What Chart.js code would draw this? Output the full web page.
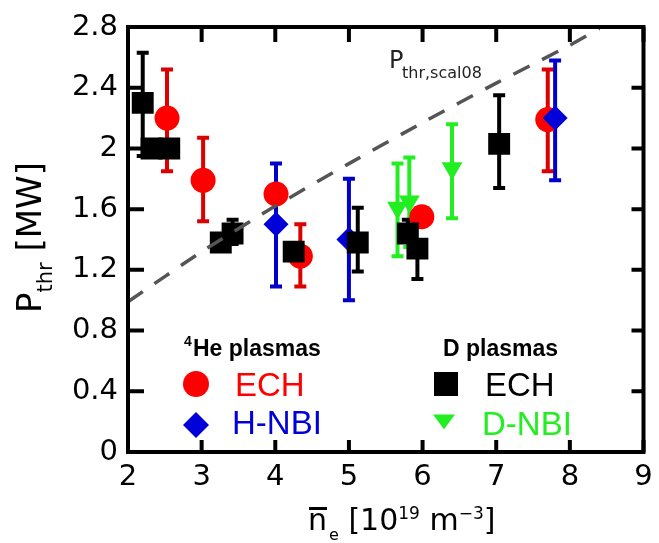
<!DOCTYPE html>
<html>
<head>
<meta charset="utf-8">
<script src="https://cdn.jsdelivr.net/npm/chart.js@4.4.1/dist/chart.umd.min.js"></script>
<style>
  html, body { margin: 0; padding: 0; background: #fff; }
  #wrap { width: 659px; height: 543px; }
</style>
</head>
<body>
<div id="wrap"><canvas id="pthr" width="659" height="543"></canvas></div>
<script>
const xTicks = [2, 3, 4, 5, 6, 7, 8, 9];
const yTicks = [0, 0.4, 0.8, 1.2, 1.6, 2, 2.4, 2.8];

// 4He plasmas, ECH
const heEchN = [2.53, 3.02, 4.01, 4.34, 5.99, 7.70];
const heEchP = [2.20, 1.79, 1.70, 1.29, 1.55, 2.19];
const heEchLo = [1.85, 1.52, null, 1.09, null, 1.85];
const heEchHi = [2.52, 2.07, null, 1.50, null, 2.52];

// 4He plasmas, H-NBI
const heNbiN = [4.01, 5.00, 7.80];
const heNbiP = [1.50, 1.40, 2.20];
const heNbiLo = [1.09, 1.00, 1.79];
const heNbiHi = [1.90, 1.80, 2.58];

// D plasmas, ECH
const dEchN = [2.20, 2.32, 2.56, 3.26, 3.42, 4.25, 5.12, 5.80, 5.93, 7.04];
const dEchP = [2.30, 2.00, 2.00, 1.38, 1.44, 1.32, 1.38, 1.44, 1.34, 2.03];
const dEchLo = [1.95, null, null, null, 1.37, null, 1.19, null, 1.14, 1.74];
const dEchHi = [2.63, null, null, null, 1.53, null, 1.61, 1.53, null, 2.35];

// D plasmas, D-NBI
const dNbiN = [5.66, 5.82, 6.40];
const dNbiP = [1.61, 1.65, 1.87];
const dNbiLo = [1.29, 1.35, 1.54];
const dNbiHi = [1.90, 1.94, 2.16];

// threshold power scaling (scal08)
const scalN = [2, 3, 4, 5, 6, 7, 8, 8.4];
const scalP = [0.99, 1.32, 1.62, 1.90, 2.17, 2.43, 2.68, 2.79];

const pts = (xs, ys) => xs.map((x, i) => ({ x, y: ys[i] }));

const RED = '#ff0000';
const BLUE = '#0000d8';
const GREEN = '#22ee22';
const BLACK = '#000000';

function drawMarker(ctx, shape, x, y, r, color) {
    ctx.fillStyle = color;
    ctx.beginPath();
    if (shape === 'circle') {
        ctx.arc(x, y, r, 0, Math.PI * 2);
    } else if (shape === 'diamond') {
        ctx.moveTo(x - r, y); ctx.lineTo(x, y - r); ctx.lineTo(x + r, y); ctx.lineTo(x, y + r);
    } else if (shape === 'square') {
        ctx.rect(x - r, y - r, 2 * r, 2 * r);
    } else if (shape === 'down') {
        ctx.moveTo(x - r, y - r * 0.6); ctx.lineTo(x + r, y - r * 0.6); ctx.lineTo(x, y + r * 0.75);
    }
    ctx.closePath();
    ctx.fill();
}

// vertical error bars, drawn under every marker
const errorBars = {
    id: 'errorBars',
    beforeDatasetsDraw(chart) {
        const { ctx, chartArea: a, scales: { x, y } } = chart;
        ctx.save();
        ctx.beginPath();
        ctx.rect(a.left, a.top, a.right - a.left, a.bottom - a.top);
        ctx.clip();
        ctx.lineWidth = 4;
        ctx.lineCap = 'butt';
        for (let i = chart.data.datasets.length - 1; i >= 0; i--) {
            const ds = chart.data.datasets[i];
            if (!ds.errLo) continue;
            ctx.strokeStyle = ds.errColor;
            ds.data.forEach((pt, j) => {
                const px = x.getPixelForValue(pt.x);
                const py = y.getPixelForValue(pt.y);
                ctx.beginPath();
                [ds.errLo[j], ds.errHi[j]].forEach(v => {
                    if (v == null) return;
                    const e = y.getPixelForValue(v);
                    ctx.moveTo(px, py);
                    ctx.lineTo(px, e);
                    ctx.moveTo(px - 6, e);
                    ctx.lineTo(px + 6, e);
                });
                ctx.stroke();
            });
        }
        ctx.restore();
    },
};

// box frame with inward ticks, axis titles, legend
const decorations = {
    id: 'decorations',
    afterDraw(chart) {
        const { ctx, chartArea: a, scales: { x, y } } = chart;
        ctx.save();
        ctx.strokeStyle = '#000';
        ctx.lineWidth = 4;
        ctx.strokeRect(a.left, a.top, a.right - a.left, a.bottom - a.top);
        ctx.beginPath();
        xTicks.forEach(v => {
            const px = x.getPixelForValue(v);
            ctx.moveTo(px, a.bottom); ctx.lineTo(px, a.bottom - 12);
            ctx.moveTo(px, a.top); ctx.lineTo(px, a.top + 15);
        });
        yTicks.forEach(v => {
            const py = y.getPixelForValue(v);
            ctx.moveTo(a.left, py); ctx.lineTo(a.left + 16, py);
            ctx.moveTo(a.right, py); ctx.lineTo(a.right - 12, py);
        });
        ctx.stroke();

        ctx.fillStyle = '#000';
        ctx.textAlign = 'left';
        ctx.textBaseline = 'alphabetic';

        // y title: P_thr [MW]
        ctx.save();
        ctx.translate(41, 313);
        ctx.rotate(-Math.PI / 2);
        ctx.font = '34px "DejaVu Sans"';
        ctx.fillText('P', 0, 0);
        let w = ctx.measureText('P').width;
        ctx.font = '21px "DejaVu Sans"';
        ctx.fillText('thr', w, 11);
        w += ctx.measureText('thr').width;
        ctx.font = '34px "DejaVu Sans"';
        ctx.fillText(' [MW]', w, 0);
        ctx.restore();

        // x title: n̄_e [10^19 m^-3]
        let cx = 308;
        const base = 530;
        const run = (txt, size, dy) => {
            ctx.font = size + 'px "DejaVu Sans"';
            ctx.fillText(txt, cx, base + dy);
            const tw = ctx.measureText(txt).width;
            cx += tw;
            return tw;
        };
        const nStart = cx;
        const nw = run('n', 30, 0);
        ctx.fillRect(nStart + 1, 507, nw - 1, 3);
        cx += 2;
        run('e', 16, 10);
        run(' [10', 30, 0);
        run('19', 17, -11);
        run(' m', 30, 0);
        run('\u22123', 17, -11);
        run(']', 30, 0);

        // scaling line label
        ctx.fillStyle = '#222';
        ctx.font = '24px "DejaVu Sans"';
        ctx.fillText('P', 389, 68);
        ctx.font = '16px "DejaVu Sans"';
        ctx.fillText('thr,scal08', 402, 78);

        // legend
        ctx.fillStyle = '#000';
        ctx.font = 'bold 14px "Liberation Sans"';
        ctx.fillText('4', 184, 346);
        ctx.font = 'bold 23px "Liberation Sans"';
        ctx.fillText('He plasmas', 193, 356);
        ctx.fillText('D plasmas', 443, 356);

        drawMarker(ctx, 'circle', 196, 384, 13, RED);
        drawMarker(ctx, 'diamond', 196, 425, 13, BLUE);
        drawMarker(ctx, 'square', 446, 384, 12, BLACK);
        drawMarker(ctx, 'down', 444, 421, 11, GREEN);

        ctx.font = '33px "Liberation Sans"';
        ctx.fillStyle = RED;
        ctx.fillText('ECH', 235, 396);
        ctx.fillStyle = BLUE;
        ctx.fillText('H-NBI', 232, 434);
        ctx.fillStyle = BLACK;
        ctx.fillText('ECH', 485, 396);
        ctx.fillStyle = GREEN;
        ctx.fillText('D-NBI', 482, 435);
        ctx.restore();
    },
};

Chart.defaults.font.family = '"DejaVu Sans"';
Chart.defaults.color = '#000';

new Chart(document.getElementById('pthr'), {
    type: 'scatter',
    data: {
        datasets: [
            {
                label: 'scal08',
                data: pts(scalN, scalP),
                showLine: true,
                borderColor: '#555',
                borderWidth: 3.5,
                borderDash: [18, 14],
                tension: 0.2,
                pointRadius: 0,
                fill: false,
            },
            {
                label: 'D ECH',
                data: pts(dEchN, dEchP),
                pointStyle: 'rect',
                pointRadius: 15.5,
                pointBackgroundColor: BLACK,
                pointBorderWidth: 0,
                errLo: dEchLo, errHi: dEchHi, errColor: BLACK,
            },
            {
                label: 'D-NBI',
                data: pts(dNbiN, dNbiP),
                pointStyle: 'triangle',
                pointRotation: 180,
                pointRadius: 12,
                pointBackgroundColor: GREEN,
                pointBorderWidth: 0,
                errLo: dNbiLo, errHi: dNbiHi, errColor: GREEN,
            },
            {
                label: 'H-NBI',
                data: pts(heNbiN, heNbiP),
                pointStyle: 'rectRot',
                pointRadius: 12.5,
                pointBackgroundColor: BLUE,
                pointBorderWidth: 0,
                errLo: heNbiLo, errHi: heNbiHi, errColor: '#0000cc',
            },
            {
                label: 'He ECH',
                data: pts(heEchN, heEchP),
                pointStyle: 'circle',
                pointRadius: 12.5,
                pointBackgroundColor: RED,
                pointBorderWidth: 0,
                errLo: heEchLo, errHi: heEchHi, errColor: '#dd0000',
            },
        ],
    },
    options: {
        responsive: false,
        animation: false,
        events: [],
        layout: { padding: { left: 0, top: 27, right: 5, bottom: 0 } },
        plugins: { legend: { display: false }, tooltip: { enabled: false } },
        scales: {
            x: {
                type: 'linear',
                min: 2,
                max: 9,
                afterBuildTicks: s => { s.ticks = xTicks.map(v => ({ value: v })); },
                afterFit: s => { s.height = 91; s.paddingLeft = 0; s.paddingRight = 0; },
                grid: { display: false, drawTicks: false },
                border: { display: false },
                ticks: { font: { size: 29 }, padding: 8, maxRotation: 0, autoSkip: false, callback: v => String(v) },
            },
            y: {
                type: 'linear',
                min: 0,
                max: 2.8,
                afterBuildTicks: s => { s.ticks = yTicks.map(v => ({ value: v })); },
                afterFit: s => { s.width = 128; s.paddingTop = 0; s.paddingBottom = 0; },
                grid: { display: false, drawTicks: false },
                border: { display: false },
                ticks: { font: { size: 29 }, padding: 10, autoSkip: false, callback: v => String(v) },
            },
        },
    },
    plugins: [errorBars, decorations],
});
</script>
</body>
</html>
